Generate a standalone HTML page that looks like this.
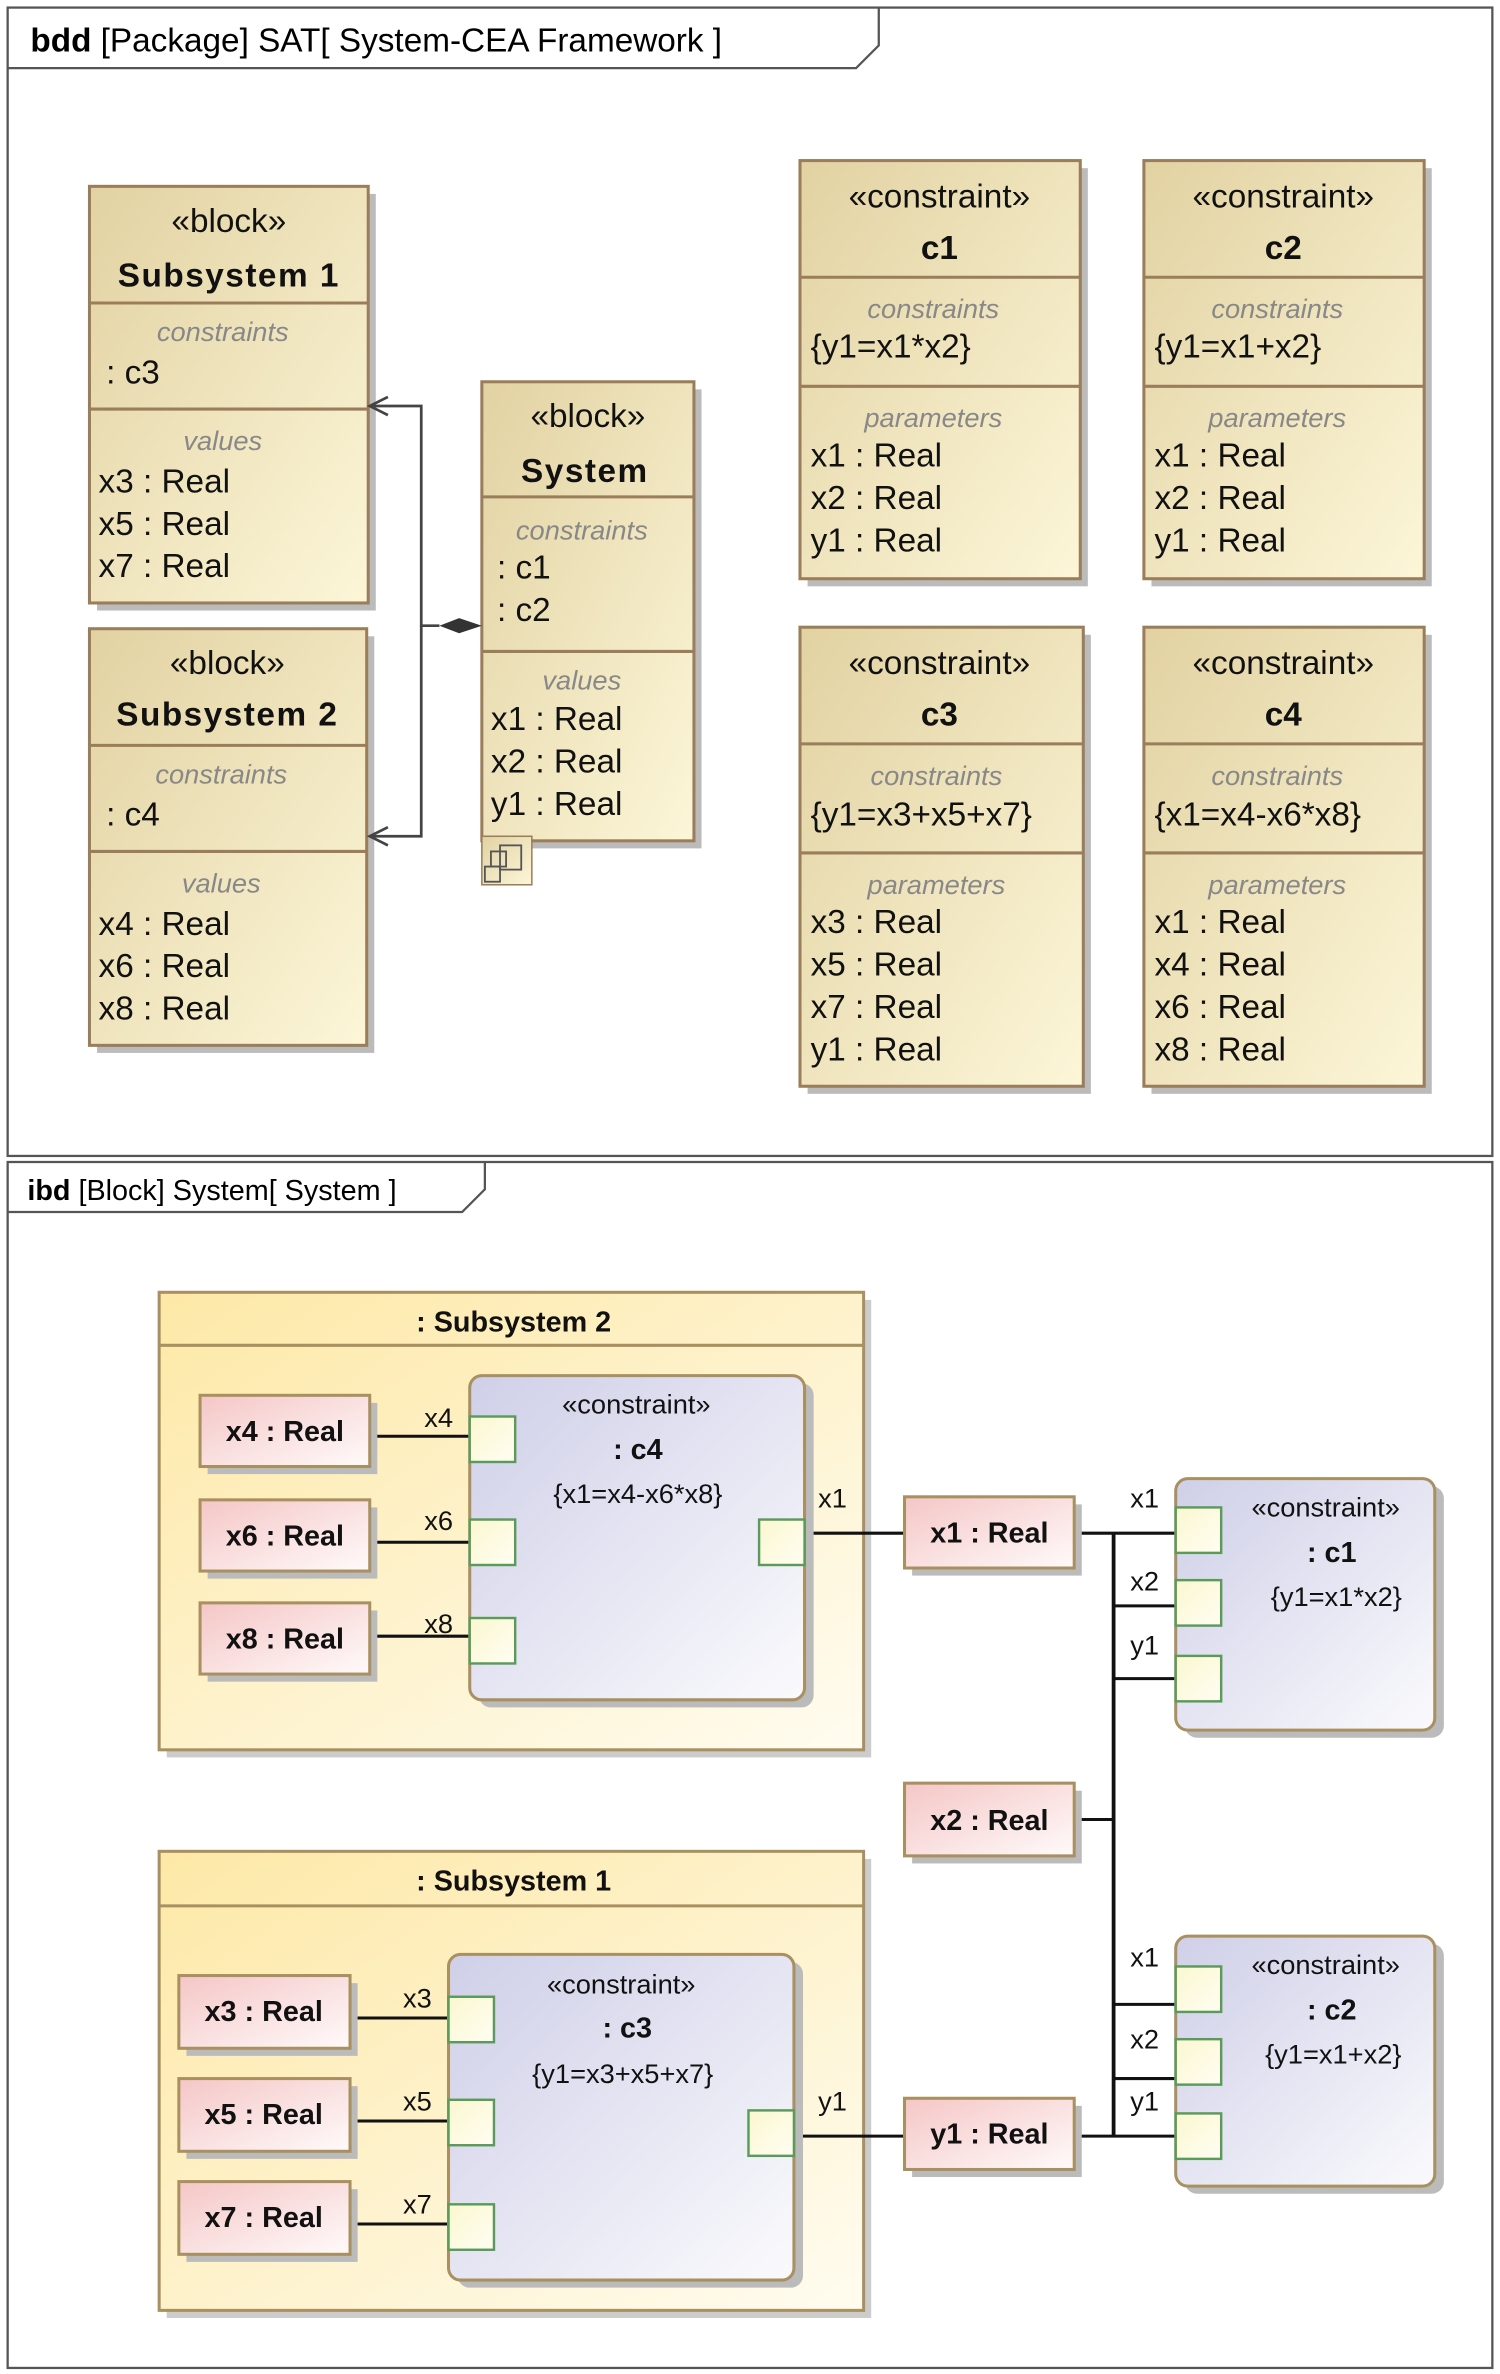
<!DOCTYPE html>
<html><head><meta charset="utf-8"><style>html,body{margin:0;padding:0;background:#fff}svg{display:block}</style></head>
<body>
<svg width="1500" height="2374" viewBox="0 0 990 1567" xmlns="http://www.w3.org/2000/svg" font-family="Liberation Sans, sans-serif">
<defs>
<linearGradient id="tan" x1="0" y1="0" x2="1" y2="1"><stop offset="0" stop-color="#e2d2a2"/><stop offset="1" stop-color="#fcf6d8"/></linearGradient>
<linearGradient id="yel" x1="0" y1="0" x2="1" y2="1"><stop offset="0" stop-color="#fde8a6"/><stop offset="1" stop-color="#fffcf0"/></linearGradient>
<linearGradient id="pink" x1="0" y1="0" x2="1" y2="1"><stop offset="0" stop-color="#f5c6c6"/><stop offset="1" stop-color="#fffafa"/></linearGradient>
<linearGradient id="lav" x1="0" y1="0" x2="1" y2="1"><stop offset="0" stop-color="#cfcfe8"/><stop offset="1" stop-color="#fafafd"/></linearGradient>
<linearGradient id="port" x1="0" y1="0" x2="1" y2="1"><stop offset="0" stop-color="#fbf7d0"/><stop offset="1" stop-color="#fffef2"/></linearGradient>
</defs>
<rect width="990" height="1567" fill="#fff"/>
<rect x="5" y="5" width="980" height="758" fill="none" stroke="#555" stroke-width="1.5"/>
<polyline points="5,45 565,45 580,30 580,5" fill="none" stroke="#555" stroke-width="1.5"/>
<text x="20" y="34" font-size="22"><tspan font-weight="bold">bdd</tspan> [Package] SAT[ System-CEA Framework ]</text>
<rect x="5" y="767" width="980" height="796" fill="none" stroke="#555" stroke-width="1.5"/>
<polyline points="5,800 305,800 320,785 320,767" fill="none" stroke="#555" stroke-width="1.5"/>
<text x="18" y="792" font-size="19"><tspan font-weight="bold">ibd</tspan> [Block] System[ System ]</text>

<g stroke="#9a7d5a" stroke-width="2">
<g fill="#bbb" stroke="none">
<rect x="64" y="128" width="184" height="275"/><rect x="64" y="420" width="183" height="275"/><rect x="323" y="257" width="140" height="303"/>
<rect x="533" y="111" width="185" height="276"/><rect x="760" y="111" width="185" height="276"/><rect x="533" y="419" width="187" height="303"/><rect x="760" y="419" width="185" height="303"/>
</g>
<rect x="59" y="123" width="184" height="275" fill="url(#tan)"/><line x1="59" y1="200" x2="243" y2="200"/><line x1="59" y1="270" x2="243" y2="270"/>
<rect x="59" y="415" width="183" height="275" fill="url(#tan)"/><line x1="59" y1="492" x2="242" y2="492"/><line x1="59" y1="562" x2="242" y2="562"/>
<rect x="318" y="252" width="140" height="303" fill="url(#tan)"/><line x1="318" y1="328" x2="458" y2="328"/><line x1="318" y1="430" x2="458" y2="430"/>
<rect x="528" y="106" width="185" height="276" fill="url(#tan)"/><line x1="528" y1="183" x2="713" y2="183"/><line x1="528" y1="255" x2="713" y2="255"/>
<rect x="755" y="106" width="185" height="276" fill="url(#tan)"/><line x1="755" y1="183" x2="940" y2="183"/><line x1="755" y1="255" x2="940" y2="255"/>
<rect x="528" y="414" width="187" height="303" fill="url(#tan)"/><line x1="528" y1="491" x2="715" y2="491"/><line x1="528" y1="563" x2="715" y2="563"/>
<rect x="755" y="414" width="185" height="303" fill="url(#tan)"/><line x1="755" y1="491" x2="940" y2="491"/><line x1="755" y1="563" x2="940" y2="563"/>
<rect x="318" y="552" width="33" height="32" fill="url(#tan)" stroke-width="1"/>
</g>
<g fill="none" stroke="#555" stroke-width="1.2"><rect x="324" y="562" width="10" height="10"/><rect x="330" y="558" width="14" height="16"/><rect x="320" y="572" width="10" height="10"/></g>
<g stroke="#444" stroke-width="1.8" fill="none">
<polyline points="290,413 278,413 278,268 244,268"/><polyline points="278,413 278,552 244,552"/>
<polyline points="256,262 244,268 256,274"/><polyline points="256,546 244,552 256,558"/>
</g>
<polygon points="290,413 303,408 318,413 303,418" fill="#333"/>
<g font-size="22" fill="#111">
<g text-anchor="middle"><text x="151" y="153">«block»</text><text x="151" y="189" font-weight="bold" letter-spacing="1">Subsystem 1</text>
<text x="150" y="445">«block»</text><text x="150" y="479" font-weight="bold" letter-spacing="1">Subsystem 2</text>
<text x="388" y="282">«block»</text><text x="386" y="318" font-weight="bold" letter-spacing="1">System</text>
<text x="620" y="137">«constraint»</text><text x="620" y="171" font-weight="bold">c1</text>
<text x="847" y="137">«constraint»</text><text x="847" y="171" font-weight="bold">c2</text>
<text x="620" y="445">«constraint»</text><text x="620" y="479" font-weight="bold">c3</text>
<text x="847" y="445">«constraint»</text><text x="847" y="479" font-weight="bold">c4</text>
<g font-size="18" font-style="italic" fill="#888">
<text x="147" y="225">constraints</text><text x="147" y="297">values</text>
<text x="146" y="517">constraints</text><text x="146" y="589">values</text>
<text x="384" y="356">constraints</text><text x="384" y="455">values</text>
<text x="616" y="210">constraints</text><text x="616" y="282">parameters</text>
<text x="843" y="210">constraints</text><text x="843" y="282">parameters</text>
<text x="618" y="518">constraints</text><text x="618" y="590">parameters</text>
<text x="843" y="518">constraints</text><text x="843" y="590">parameters</text>
</g></g>
<text x="70" y="253">: c3</text><text x="65" y="325">x3 : Real</text><text x="65" y="353">x5 : Real</text><text x="65" y="381">x7 : Real</text>
<text x="70" y="545">: c4</text><text x="65" y="617">x4 : Real</text><text x="65" y="645">x6 : Real</text><text x="65" y="673">x8 : Real</text>
<text x="328" y="382">: c1</text><text x="328" y="410">: c2</text><text x="324" y="482">x1 : Real</text><text x="324" y="510">x2 : Real</text><text x="324" y="538">y1 : Real</text>
<text x="535" y="236">{y1=x1*x2}</text><text x="535" y="308">x1 : Real</text><text x="535" y="336">x2 : Real</text><text x="535" y="364">y1 : Real</text>
<text x="762" y="236">{y1=x1+x2}</text><text x="762" y="308">x1 : Real</text><text x="762" y="336">x2 : Real</text><text x="762" y="364">y1 : Real</text>
<text x="535" y="545">{y1=x3+x5+x7}</text><text x="535" y="616">x3 : Real</text><text x="535" y="644">x5 : Real</text><text x="535" y="672">x7 : Real</text><text x="535" y="700">y1 : Real</text>
<text x="762" y="545">{x1=x4-x6*x8}</text><text x="762" y="616">x1 : Real</text><text x="762" y="644">x4 : Real</text><text x="762" y="672">x6 : Real</text><text x="762" y="700">x8 : Real</text>
</g>

<g stroke="#a89060" stroke-width="2">
<rect x="110" y="858" width="465" height="302" fill="#ccc" stroke="none"/>
<rect x="105" y="853" width="465" height="302" fill="url(#yel)"/><line x1="105" y1="888" x2="570" y2="888"/>
<rect x="110" y="1227" width="465" height="303" fill="#ccc" stroke="none"/>
<rect x="105" y="1222" width="465" height="303" fill="url(#yel)"/><line x1="105" y1="1258" x2="570" y2="1258"/>
</g>
<g font-size="19" font-weight="bold" text-anchor="middle" fill="#111"><text x="339" y="879">: Subsystem 2</text><text x="339" y="1248">: Subsystem 1</text></g>
<g stroke="#111" stroke-width="2" fill="none">
<line x1="244" y1="948" x2="310" y2="948"/><line x1="244" y1="1018" x2="310" y2="1018"/><line x1="244" y1="1080" x2="310" y2="1080"/>
<line x1="531" y1="1012" x2="597" y2="1012"/><line x1="709" y1="1012" x2="776" y2="1012"/>
<line x1="231" y1="1332" x2="296" y2="1332"/><line x1="231" y1="1400" x2="296" y2="1400"/><line x1="231" y1="1468" x2="296" y2="1468"/>
<line x1="524" y1="1410" x2="597" y2="1410"/><line x1="709" y1="1410" x2="776" y2="1410"/>
<line x1="735" y1="1012" x2="735" y2="1410" stroke-width="2.5"/>
<line x1="735" y1="1060" x2="776" y2="1060"/><line x1="735" y1="1108" x2="776" y2="1108"/>
<line x1="709" y1="1201" x2="735" y2="1201"/>
<line x1="735" y1="1323" x2="776" y2="1323"/><line x1="735" y1="1372" x2="776" y2="1372"/>
</g>
<g stroke="#a89060" stroke-width="2">
<g fill="#bbb" stroke="none">
<rect x="137" y="926" width="112" height="47"/><rect x="137" y="995" width="112" height="47"/><rect x="137" y="1063" width="112" height="47"/>
<rect x="123" y="1309" width="113" height="48"/><rect x="123" y="1377" width="113" height="48"/><rect x="123" y="1445" width="113" height="48"/>
<rect x="602" y="993" width="112" height="47"/><rect x="602" y="1182" width="112" height="48"/><rect x="602" y="1390" width="112" height="47"/>
<rect x="316" y="913" width="221" height="214" rx="8"/><rect x="302" y="1295" width="228" height="215" rx="8"/>
<rect x="782" y="981" width="171" height="166" rx="8"/><rect x="782" y="1283" width="171" height="165" rx="8"/>
</g>
<rect x="132" y="921" width="112" height="47" fill="url(#pink)"/><rect x="132" y="990" width="112" height="47" fill="url(#pink)"/><rect x="132" y="1058" width="112" height="47" fill="url(#pink)"/>
<rect x="118" y="1304" width="113" height="48" fill="url(#pink)"/><rect x="118" y="1372" width="113" height="48" fill="url(#pink)"/><rect x="118" y="1440" width="113" height="48" fill="url(#pink)"/>
<rect x="597" y="988" width="112" height="47" fill="url(#pink)"/><rect x="597" y="1177" width="112" height="48" fill="url(#pink)"/><rect x="597" y="1385" width="112" height="47" fill="url(#pink)"/>
<rect x="310" y="908" width="221" height="214" rx="8" fill="url(#lav)"/><rect x="296" y="1290" width="228" height="215" rx="8" fill="url(#lav)"/>
<rect x="776" y="976" width="171" height="166" rx="8" fill="url(#lav)"/><rect x="776" y="1278" width="171" height="165" rx="8" fill="url(#lav)"/>
</g>
<g fill="url(#port)" stroke="#5a9a5a" stroke-width="1.6">
<rect x="310" y="935" width="30" height="30"/><rect x="310" y="1003" width="30" height="30"/><rect x="310" y="1068" width="30" height="30"/><rect x="501" y="1003" width="30" height="30"/>
<rect x="296" y="1318" width="30" height="30"/><rect x="296" y="1386" width="30" height="30"/><rect x="296" y="1455" width="30" height="30"/><rect x="494" y="1393" width="30" height="30"/>
<rect x="776" y="995" width="30" height="30"/><rect x="776" y="1043" width="30" height="30"/><rect x="776" y="1093" width="30" height="30"/>
<rect x="776" y="1298" width="30" height="30"/><rect x="776" y="1346" width="30" height="30"/><rect x="776" y="1395" width="30" height="30"/>
</g>
<g font-size="19" font-weight="bold" text-anchor="middle" fill="#111">
<text x="188" y="951">x4 : Real</text><text x="188" y="1020">x6 : Real</text><text x="188" y="1088">x8 : Real</text>
<text x="174" y="1334">x3 : Real</text><text x="174" y="1402">x5 : Real</text><text x="174" y="1470">x7 : Real</text>
<text x="653" y="1018">x1 : Real</text><text x="653" y="1208">x2 : Real</text><text x="653" y="1415">y1 : Real</text>
<text x="421" y="963">: c4</text><text x="414" y="1345">: c3</text><text x="879" y="1031">: c1</text><text x="879" y="1333">: c2</text>
</g>
<g font-size="18" fill="#111">
<g text-anchor="middle"><text x="420" y="933">«constraint»</text><text x="421" y="992">{x1=x4-x6*x8}</text>
<text x="410" y="1316">«constraint»</text><text x="411" y="1375">{y1=x3+x5+x7}</text>
<text x="875" y="1001">«constraint»</text><text x="882" y="1060">{y1=x1*x2}</text>
<text x="875" y="1303">«constraint»</text><text x="880" y="1362">{y1=x1+x2}</text></g>
<text x="280" y="942">x4</text><text x="280" y="1010">x6</text><text x="280" y="1078">x8</text><text x="540" y="995">x1</text>
<text x="266" y="1325">x3</text><text x="266" y="1393">x5</text><text x="266" y="1461">x7</text><text x="540" y="1393">y1</text>
<text x="746" y="995">x1</text><text x="746" y="1050">x2</text><text x="746" y="1092">y1</text>
<text x="746" y="1298">x1</text><text x="746" y="1352">x2</text><text x="746" y="1393">y1</text>
</g>
</svg>
</body></html>
